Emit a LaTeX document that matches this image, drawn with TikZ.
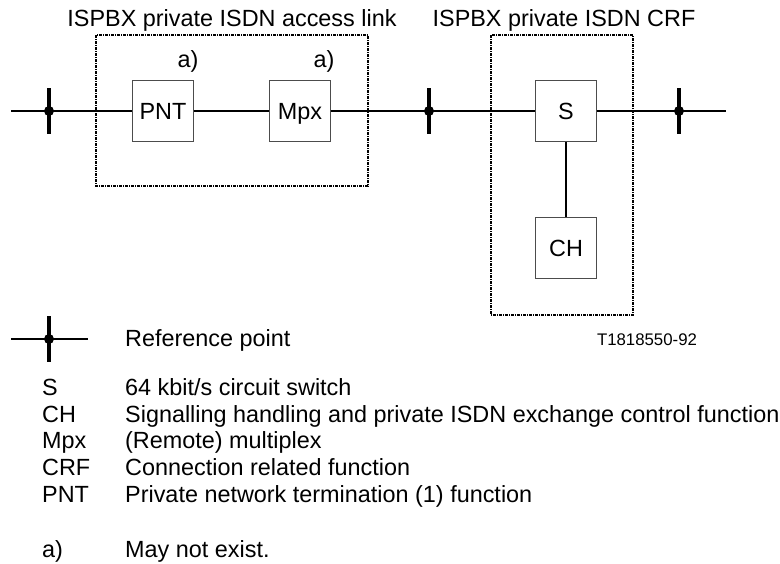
\documentclass[tikz,border=0pt]{standalone}
\usepackage{fontspec}
\setmainfont{Liberation Sans}
\usepackage{tikz}
\usetikzlibrary{
    calc,
    positioning
}
\newcommand{\refpoint}[1]{%
    \draw[line width=3.2pt] ($(#1)+(0,-23)$) -- ($(#1)+(0,23)$);
    \fill (#1) circle (5pt);}

\begin{document}
\begin{tikzpicture}[x=1pt, y=-1pt,
    font=\fontsize{23.4}{27}\selectfont,
    func/.style={draw=black!70, line width=0.9pt, minimum width=61pt, minimum height=61pt, inner sep=0pt, text depth=0pt},
    link/.style={line width=2pt},
    dotbox/.style={line width=1.3pt, dash pattern=on 3pt off 1pt on 1pt off 1pt},
    txt/.style={anchor=base west, inner sep=0pt}]
                        \useasboundingbox (0, 0) rectangle (780, 563);

                        \node[func] (pnt) at (163, 111) {PNT};
                        \node[func] (mpx) at (300, 111) {Mpx};
                        \node[func] (sw) at (566, 111) {S};
                        \node[func] (ch) at (566, 248) {CH};

                        \coordinate (lend) at (11, 111);
                        \coordinate (rend) at (726, 111);
                        \coordinate (r1) at (49, 111);
                        \coordinate (r2) at (429, 111);
                        \coordinate (r3) at (679, 111);

                        \draw[dotbox] (96, 35) rectangle (368, 186);
                        \draw[dotbox] (491, 35) rectangle (633, 315);

                        \node[anchor=base] (t1) at (232, 26) {ISPBX private ISDN access link};
                        \node[anchor=base] (t2) at (564, 26) {ISPBX private ISDN CRF};
                        \node[anchor=base] (n1) at (188, 67) {a)};
                        \node[anchor=base] (n2) at (324, 67) {a)};

                        \draw[link]
                        (lend) -- (pnt)
                        (pnt) -- (mpx)
                        (mpx) -- (sw)
                        (sw) -- (rend)
                        (sw) -- (ch);
                        \refpoint{r1}
                        \refpoint{r2}
                        \refpoint{r3}

                        \coordinate (kl) at (11, 339);
                        \coordinate (kr) at (88, 339);
                        \coordinate (k) at (49, 339);
                        \draw[link] (kl) -- (kr);
                        \refpoint{k}
                        \node[txt] (kt) at (125, 346) {Reference point};
                        \node[anchor=base, font=\fontsize{16.8}{20}\selectfont] (fig) at (647, 345) {T1818550-92};

                        \node[txt] (a1) at (42, 395) {S};
                        \node[txt] (b1) at (125, 395) {64 kbit/s circuit switch};
                        \node[txt] (a2) at (42, 422) {CH};
                        \node[txt] (b2) at (125, 422) {Signalling handling and private ISDN exchange control function};
                        \node[txt] (a3) at (42, 448) {Mpx};
                        \node[txt] (b3) at (125, 448) {(Remote) multiplex};
                        \node[txt] (a4) at (42, 475) {CRF};
                        \node[txt] (b4) at (125, 475) {Connection related function};
                        \node[txt] (a5) at (42, 502) {PNT};
                        \node[txt] (b5) at (125, 502) {Private network termination (1) function};
                        \node[txt] (a6) at (42, 557) {a)};
                        \node[txt] (b6) at (125, 557) {May not exist.};
                    \end{tikzpicture}
\end{document}
